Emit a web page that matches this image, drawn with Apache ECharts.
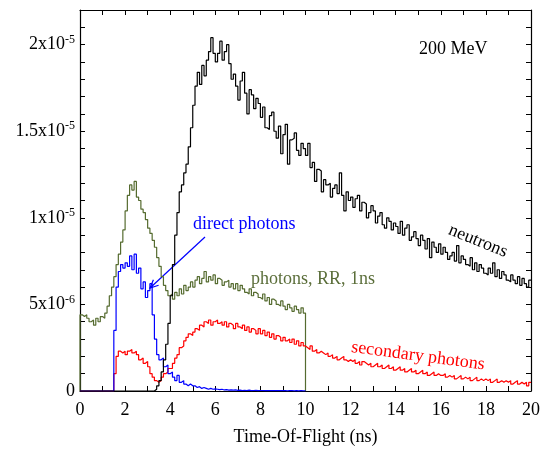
<!DOCTYPE html>
<html>
<head>
<meta charset="utf-8">
<script src="https://cdn.jsdelivr.net/npm/echarts@6/dist/echarts.min.js"></script>
<style>
  html, body { margin: 0; padding: 0; background: #fff; }
  #chart { width: 545px; height: 451px; }
</style>
</head>
<body>
<div id="chart"></div>
<script>
// histogram bins, 0.1 ns wide, values in units of 1e-6
const binWidth = 0.1;

const photonsRR = [
  4.4, 4.3, 4.4, 4.2, 4.0, 4.1, 3.8, 4.2, 4.0, 4.3,
  4.2, 4.5, 4.9, 5.5, 6.0, 6.6, 7.3, 7.9, 8.6, 9.3,
  10.4, 11.3, 11.9, 11.6, 12.1, 11.2, 11.0, 10.5, 10.3, 9.9,
  9.4, 9.1, 8.7, 8.3, 7.7, 7.2, 6.6, 6.1, 5.8, 5.5,
  5.6, 5.3, 5.7, 5.5, 5.9, 5.6, 6.1, 5.8, 6.0, 6.3,
  6.0, 6.4, 6.6, 6.2, 6.5, 6.9, 6.3, 6.6, 6.4, 6.7,
  6.2, 6.5, 6.4, 6.1, 6.3, 6.4, 6.0, 6.2, 5.9, 6.2,
  5.8, 6.1, 5.9, 5.7, 5.6, 5.9, 5.5, 5.7, 5.6, 5.4,
  5.3, 5.6, 5.2, 5.4, 5.0, 5.3, 5.2, 5.0, 4.9, 5.2,
  4.9, 4.7, 5.0, 4.8, 4.6, 4.9, 4.7, 4.5, 4.8, 4.5,
  0
];

const directPhotons = [
  0, 0, 0, 0, 0, 0, 0, 0, 0, 0,
  0, 0, 0, 0, 0, 3.5, 6.0, 6.9, 7.3, 7.1,
  7.4, 7.2, 7.8, 7.0, 7.9, 6.8, 7.1, 5.9, 6.3, 5.4,
  5.8, 6.2, 4.4, 3.0, 2.1, 1.8, 1.9, 1.4, 1.5, 1.0,
  1.1, 0.8, 0.6, 0.9, 0.5, 0.6, 0.4, 0.3, 0.4, 0.3,
  0.3, 0.2, 0.25, 0.15, 0.2, 0.15, 0.1, 0.15, 0.1, 0.12,
  0.1, 0.08, 0.1, 0.06, 0.08, 0.05, 0.07, 0.05, 0.06, 0.04,
  0.05, 0.03, 0.04, 0.03, 0.05, 0.02, 0.03, 0.04, 0.02, 0.03,
  0.03, 0.02, 0.03, 0.02, 0.02, 0.03, 0.02, 0.02, 0.03, 0.02,
  0.02, 0.01, 0.02, 0.02, 0.01, 0.02, 0.01, 0.02, 0.01, 0.01,
  0
];

const secondaryPhotons = [
  0, 0, 0, 0, 0, 0, 0, 0, 0, 0,
  0, 0, 0, 0, 0, 1.0, 2.0, 2.3, 2.2, 2.3,
  2.1, 2.3, 2.4, 2.2, 2.3, 2.1, 1.8, 1.9, 1.6, 1.7,
  1.4, 1.0, 0.8, 0.6, 0.5, 0.6, 0.8, 1.0, 1.1, 1.3,
  1.3, 1.6, 1.9, 2.1, 2.5, 2.6, 2.9, 3.1, 3.3, 3.2,
  3.4, 3.6, 3.5, 3.8, 3.7, 4.0, 3.9, 4.1, 3.8, 4.0,
  4.1, 3.9, 4.0, 3.8, 4.0, 3.7, 3.9, 3.8, 3.6, 3.9,
  3.7, 3.6, 3.8, 3.5, 3.7, 3.4, 3.6, 3.5, 3.3, 3.6,
  3.3, 3.5, 3.2, 3.4, 3.1, 3.3, 3.0, 3.2, 3.1, 2.9,
  3.1, 2.9, 3.0, 2.8, 3.0, 2.7, 2.9, 2.6, 2.8, 2.6,
  2.5, 2.4, 2.6, 2.3, 2.4, 2.2, 2.3, 2.2, 2.1, 2.2,
  2.0, 2.1, 1.9, 2.0, 1.8, 1.9, 2.0, 1.8, 1.7, 1.8,
  1.7, 1.8, 1.6, 1.7, 1.5, 1.7, 1.6, 1.5, 1.6, 1.4,
  1.5, 1.6, 1.4, 1.5, 1.3, 1.4, 1.5, 1.3, 1.4, 1.2,
  1.3, 1.4, 1.2, 1.3, 1.1, 1.2, 1.3, 1.1, 1.2, 1.0,
  1.1, 1.2, 1.0, 1.1, 0.9, 1.0, 1.1, 0.9, 1.0, 0.9,
  0.9, 1.0, 0.8, 0.9, 0.8, 0.9, 0.7, 0.8, 0.9, 0.7,
  0.8, 0.7, 0.8, 0.6, 0.7, 0.8, 0.6, 0.7, 0.6, 0.7,
  0.6, 0.7, 0.5, 0.6, 0.7, 0.5, 0.6, 0.5, 0.6, 0.5,
  0.6, 0.4, 0.5, 0.6, 0.4, 0.5, 0.4, 0.5, 0.3, 0.5,
  0.5
];

const neutrons = [
  0, 0, 0, 0, 0, 0, 0, 0, 0, 0,
  0, 0, 0, 0, 0, 0, 0, 0, 0, 0,
  0, 0, 0, 0, 0, 0, 0, 0, 0, 0,
  0, 0, 0, 0.1, 0.3, 0.6, 1.1, 1.8, 2.7, 3.9,
  5.5, 7.3, 9.0, 10.3, 11.5, 11.9, 12.6, 13.1, 14.1, 15.2,
  16.5, 17.6, 18.4, 17.7, 18.8, 18.2, 19.1, 19.6, 20.4, 19.5,
  19.0, 19.5, 20.2, 19.1, 19.6, 20.0, 18.9, 18.0, 18.3, 17.6,
  16.8, 17.9, 18.4, 17.2, 16.0, 17.4, 17.1, 16.3, 16.9, 16.6,
  15.8, 16.4, 15.2, 15.1, 15.9, 16.1, 15.0, 14.6, 15.3, 13.7,
  14.8, 15.4, 13.1, 14.5, 14.6, 14.9, 13.9, 13.6, 14.3, 14.0,
  13.6, 14.3, 12.9, 13.2, 12.1, 12.8, 12.7, 11.5, 12.2, 11.9,
  12.0, 11.2, 11.7, 11.9, 11.4, 12.6, 11.3, 10.4, 11.5, 11.0,
  11.2, 10.6, 11.1, 11.3, 10.4, 10.9, 10.8, 10.0, 10.3, 10.7,
  10.4, 9.7, 10.1, 10.3, 9.6, 9.4, 10.0, 9.8, 9.3, 9.7,
  9.5, 9.1, 9.8, 9.0, 9.4, 9.6, 8.7, 8.9, 9.2, 8.8,
  8.4, 9.0, 8.7, 8.2, 8.8, 7.7, 8.6, 8.3, 8.0, 8.5,
  7.9, 8.3, 8.0, 7.6, 7.8, 8.0, 7.5, 8.4, 7.4, 7.8,
  7.6, 7.3, 7.2, 7.7, 7.0, 7.4, 6.9, 7.3, 7.1, 6.8,
  6.7, 7.1, 6.8, 7.4, 6.6, 7.0, 6.5, 6.9, 6.7, 6.4,
  6.3, 6.7, 6.4, 6.2, 6.6, 6.1, 6.5, 6.2, 6.0, 6.4,
  6.4
];

const xTickLabels = ['0', '2', '4', '6', '8', '10', '12', '14', '16', '18', '20'];
const yTickLabels = { 0: ['0', ''], 5: ['5x10', '-6'], 10: ['1x10', '-5'], 15: ['1.5x10', '-5'], 20: ['2x10', '-5'] };

const serif = 'Liberation Serif';

// histogram starts from zero at t = 0
function toPairs(arr) {
  const pts = arr.map((v, i) => [+(i * binWidth).toFixed(2), v]);
  pts.unshift([0, 0]);
  return pts;
}

function histo(name, arr, color, z) {
  return {
    name: name,
    type: 'line',
    step: 'end',
    showSymbol: false,
    z: z,
    data: toPairs(arr),
    lineStyle: { color: color, width: 1.2 },
    animation: false
  };
}

const chart = echarts.init(document.getElementById('chart'));

const tickStyle = { show: true, inside: true, length: 5, lineStyle: { color: '#000', width: 1 } };
const axisLine = { show: true, onZero: false, lineStyle: { color: '#000', width: 1.2 } };

chart.setOption({
  backgroundColor: '#fff',
  grid: { left: 80, right: 14, top: 10, bottom: 57 },
  xAxis: [
    {
      type: 'value', min: 0, max: 20, interval: 1, position: 'bottom',
      axisLine: axisLine, axisTick: tickStyle, splitLine: { show: false },
      axisLabel: {
        margin: 10, fontFamily: serif, fontSize: 18, color: '#000',
        formatter: v => (v % 2 === 0 ? xTickLabels[v / 2] : '')
      },
      name: 'Time-Of-Flight (ns)', nameLocation: 'middle', nameGap: 37,
      nameTextStyle: { fontFamily: serif, fontSize: 18, color: '#000' }
    },
    {
      type: 'value', min: 0, max: 20, interval: 1, position: 'top',
      axisLine: axisLine, axisTick: tickStyle, axisLabel: { show: false }, splitLine: { show: false }
    }
  ],
  yAxis: [
    {
      type: 'value', min: 0, max: 22, interval: 1, position: 'left',
      axisLine: axisLine, axisTick: tickStyle, splitLine: { show: false },
      axisLabel: {
        margin: 5, color: '#000',
        formatter: v => {
          const l = yTickLabels[v];
          if (!l) return '';
          return l[1] ? '{b|' + l[0] + '}{s|' + l[1] + '}' : '{b|' + l[0] + '}';
        },
        rich: {
          b: { fontFamily: serif, fontSize: 18, color: '#000' },
          s: { fontFamily: serif, fontSize: 12, color: '#000', padding: [0, 0, 10, 0] }
        }
      }
    },
    {
      type: 'value', min: 0, max: 22, interval: 1, position: 'right',
      axisLine: axisLine, axisTick: tickStyle, axisLabel: { show: false }, splitLine: { show: false }
    }
  ],
  series: [
    histo('photons, RR, 1ns', photonsRR, '#556b2f', 2),
    histo('secondary photons', secondaryPhotons, '#ff0000', 3),
    histo('direct photons', directPhotons, '#0000ff', 4),
    histo('neutrons', neutrons, '#000000', 5)
  ],
  graphic: [
    { type: 'text', left: 419, top: 40, style: { text: '200 MeV', fontFamily: serif, fontSize: 18, fill: '#000' } },
    { type: 'text', left: 193, top: 215, style: { text: 'direct photons', fontFamily: serif, fontSize: 18, fill: '#0000ff' } },
    { type: 'line', shape: { x1: 205, y1: 237, x2: 150, y2: 288 }, style: { stroke: '#0000ff', lineWidth: 1.2 } },
    { type: 'polyline', shape: { points: [[158.6, 285.2], [150, 288], [153.4, 279.7]] }, style: { stroke: '#0000ff', lineWidth: 1.2, fill: null } },
    { type: 'text', left: 251, top: 270, style: { text: 'photons, RR, 1ns', fontFamily: serif, fontSize: 18, fill: '#5b6e3a' } },
    {
      type: 'text', x: 478, y: 241, rotation: -22 * Math.PI / 180,
      style: { text: 'neutrons', fontFamily: serif, fontSize: 18, fill: '#000', align: 'center', verticalAlign: 'middle' }
    },
    {
      type: 'text', x: 418, y: 356, rotation: -7.5 * Math.PI / 180,
      style: { text: 'secondary photons', fontFamily: serif, fontSize: 18, fill: '#ff0000', align: 'center', verticalAlign: 'middle' }
    }
  ]
});
</script>
</body>
</html>
